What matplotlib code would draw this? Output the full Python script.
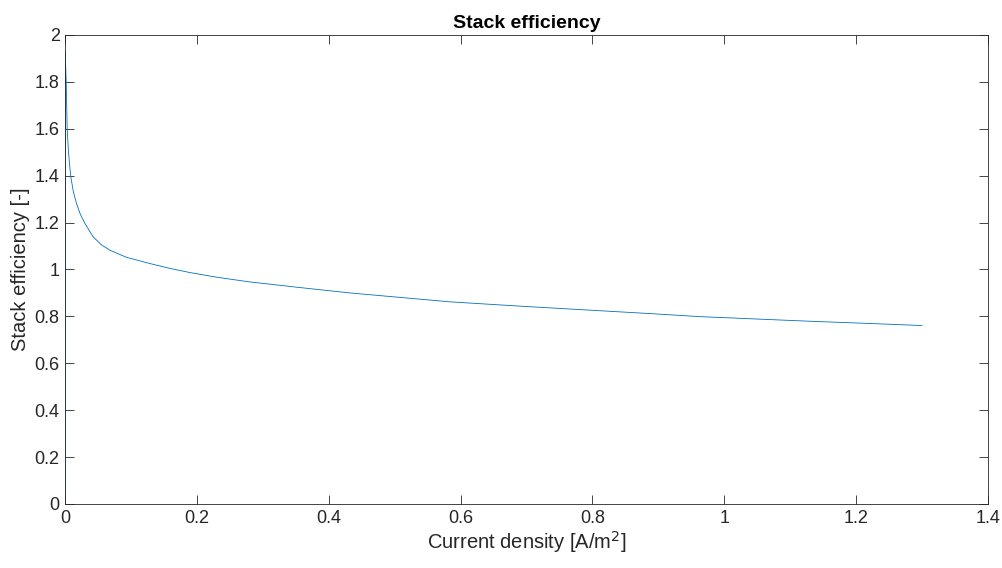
import numpy as np
import matplotlib
matplotlib.use('Agg')
import matplotlib.pyplot as plt

# values
current_density = [0, 0.0002, 0.0008, 0.0015, 0.003, 0.005, 0.0082, 0.0125, 0.0173,
                   0.023, 0.030, 0.0425, 0.055, 0.068, 0.093, 0.129, 0.16, 0.189,
                   0.23, 0.28, 0.356, 0.432, 0.508, 0.584, 0.7, 0.8, 0.887, 0.963,
                   1.039, 1.132, 1.2, 1.3]
stack_eff = [0, 1.93, 1.86, 1.80, 1.60, 1.50, 1.40, 1.33, 1.28,
             1.235, 1.196, 1.139, 1.105, 1.082, 1.052, 1.025, 1.004, 0.987,
             0.967, 0.947, 0.923, 0.900, 0.881, 0.862, 0.842, 0.826, 0.812, 0.799,
             0.790, 0.779, 0.772, 0.761]

plt.rcParams['font.family'] = ['Liberation Sans', 'DejaVu Sans']
grey = '#262626'

fig = plt.figure(figsize=(10.03, 5.68), dpi=100)
ax = fig.add_axes([0.065, 0.1127, 0.92, 0.8257])
ax.plot(current_density, stack_eff, color=(0, 0.447, 0.741), lw=0.6)

ax.set_xlim(0, 1.4)
ax.set_ylim(0, 2)
ax.set_xticks(np.arange(0, 1.41, 0.2))
ax.set_yticks(np.arange(0, 2.01, 0.2))
ax.set_xticklabels(['0', '0.2', '0.4', '0.6', '0.8', '1', '1.2', '1.4'])
ax.set_yticklabels(['0', '0.2', '0.4', '0.6', '0.8', '1', '1.2', '1.4', '1.6', '1.8', '2'])
ax.tick_params(direction='in', length=6.5, width=0.6, colors=grey, labelsize=13,
               top=True, right=True, pad=4)
for s in ax.spines.values():
    s.set_color(grey)
    s.set_linewidth(0.6)

ax.set_xlabel('Current density [A/m$^2$]', fontsize=14.5, color=grey, labelpad=2)
ax.set_ylabel('Stack efficiency [-]', fontsize=14.5, color=grey, labelpad=3)
ax.set_title('Stack efficiency', fontsize=14, fontweight='bold', color='black', pad=5)

fig.savefig('out.png', dpi=100)
